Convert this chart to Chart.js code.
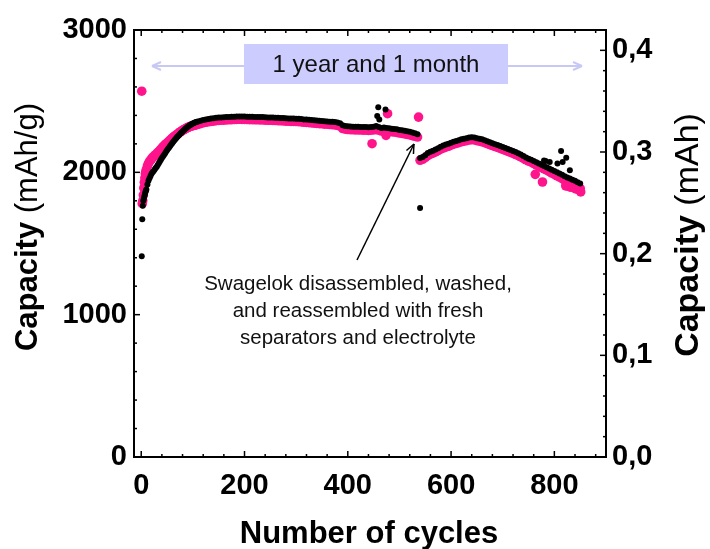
<!DOCTYPE html>
<html>
<head>
<meta charset="utf-8">
<script src="https://cdn.jsdelivr.net/npm/chart.js@4.4.1/dist/chart.umd.min.js"></script>
<style>
  html, body { margin:0; padding:0; background:#fff; }
  #wrap { width:710px; height:549px; }
</style>
</head>
<body>
<div id="wrap"><canvas id="capChart" width="710" height="549"></canvas></div>
<script>
// cycle numbers shared by both series (main band)
const cycles = [
  1, 2, 3, 4, 5, 6, 7, 8, 9, 10,
  12, 14, 16, 18, 20, 22, 24, 26, 28, 30,
  32, 34, 36, 38, 40, 42, 44, 46, 48, 50,
  52, 54, 56, 58, 60, 62, 64, 66, 68, 70,
  72, 74, 76, 78, 80, 82, 84, 86, 88, 90,
  92, 94, 96, 98, 100, 102, 104, 106, 108, 110,
  115,
  120, 125, 130, 135, 140, 145, 150, 155, 160, 165, 170, 175, 180, 185, 190, 195, 200, 205, 210, 215,
  220, 225, 230, 235, 240, 245, 250, 255, 260, 265, 270, 275, 280, 285, 290, 295, 300, 305, 310, 315,
  320, 325, 330, 335, 340, 345, 350, 355, 360, 365, 370, 375, 380, 385, 390, 395, 400, 405, 410, 415,
  420, 425, 430, 435, 440, 445, 450, 455, 460, 465, 470, 475, 480, 485, 490, 495, 500, 505, 510, 515,
  520, 525, 530, 535,
  540, 545, 550, 555, 560, 565, 570, 575, 580, 585, 590, 595, 600, 605, 610, 615, 620, 625, 630, 635,
  640, 645, 650, 655, 660, 665, 670, 675, 680, 685, 690, 695, 700, 705, 710, 715, 720, 725, 730, 735,
  740, 745, 750, 755, 760, 765, 770, 775, 780, 785, 790, 795, 800, 805, 810, 815, 820, 825, 830, 835,
  840, 845, 850
];

// black points (mAh/g)
const blackCap = [
  1410, 1670, 1765, 1800, 1815, 1830, 1845, 1860, 1870, 1880,
  1915, 1940, 1958, 1975, 1990, 2000, 2010, 2020, 2030, 2040,
  2052, 2064, 2076, 2088, 2100, 2111, 2122, 2133, 2144, 2155,
  2165, 2175, 2185, 2195, 2205, 2214, 2223, 2232, 2241, 2250,
  2257, 2264, 2272, 2279, 2287, 2294, 2301, 2308, 2314, 2320,
  2325, 2330, 2335, 2339, 2343, 2347, 2350, 2353, 2356, 2358,
  2363,
  2368, 2372, 2375, 2378, 2380, 2383, 2385, 2386, 2387, 2388, 2389, 2390, 2391, 2392, 2393, 2392, 2392, 2391, 2390, 2390,
  2389, 2389, 2388, 2388, 2387, 2386, 2386, 2385, 2384, 2383, 2382, 2381, 2380, 2379, 2378, 2378, 2377, 2376, 2374, 2372,
  2371, 2369, 2367, 2366, 2364, 2362, 2361, 2359, 2358, 2356, 2355, 2353, 2350, 2345, 2330, 2325, 2323, 2322, 2321, 2320,
  2320, 2319, 2318, 2318, 2317, 2318, 2320, 2325, 2318, 2312, 2315, 2312, 2310, 2307, 2305, 2302, 2298, 2295, 2292, 2288,
  2285, 2280, 2275, 2268,
  2100, 2108, 2120, 2135, 2145, 2152, 2160, 2170, 2180, 2188, 2195, 2200, 2208, 2215, 2220, 2226, 2232, 2236, 2240, 2244,
  2247, 2245, 2240, 2236, 2232, 2225, 2218, 2212, 2205, 2198, 2192, 2185, 2178, 2171, 2164, 2157, 2150, 2142, 2134, 2125,
  2115, 2105, 2096, 2088, 2079, 2070, 2062, 2053, 2044, 2036, 2027, 2018, 2010, 2001, 1992, 1983, 1973, 1964, 1956, 1948,
  1940, 1930, 1921
];

// pink points (mAh/g)
const pinkCap = [
  2570, 1780, 1800, 1840, 1890, 1930, 1960, 1990, 2005, 2020,
  2045, 2062, 2075, 2085, 2095, 2103, 2110, 2118, 2124, 2130,
  2138, 2146, 2154, 2162, 2170, 2178, 2186, 2193, 2199, 2205,
  2212, 2219, 2226, 2233, 2240, 2246, 2252, 2258, 2263, 2268,
  2274, 2280, 2285, 2290, 2295, 2299, 2303, 2307, 2311, 2315,
  2318, 2321, 2324, 2326, 2328, 2330, 2332, 2334, 2336, 2338,
  2342,
  2348, 2352, 2355, 2358, 2360, 2363, 2365, 2366, 2367, 2368, 2369, 2370, 2371, 2372, 2373, 2372, 2372, 2371, 2370, 2370,
  2369, 2369, 2368, 2368, 2367, 2366, 2366, 2365, 2364, 2363, 2362, 2361, 2360, 2359, 2358, 2358, 2357, 2356, 2354, 2352,
  2351, 2349, 2347, 2346, 2344, 2342, 2341, 2339, 2338, 2336, 2335, 2333, 2330, 2325, 2308, 2303, 2301, 2300, 2299, 2298,
  2298, 2297, 2296, 2296, 2295, 2296, 2298, 2300, 2296, 2290, 2293, 2290, 2288, 2285, 2283, 2280, 2276, 2273, 2270, 2266,
  2263, 2258, 2253, 2248,
  2085, 2092, 2103, 2118, 2128, 2135, 2143, 2153, 2163, 2171, 2178, 2183, 2191, 2198, 2203, 2209, 2215, 2219, 2223, 2227,
  2230, 2228, 2223, 2219, 2215, 2208, 2201, 2195, 2188, 2181, 2175, 2168, 2161, 2154, 2147, 2140, 2133, 2125, 2117, 2108,
  2098, 2088, 2079, 2071, 2062, 2052, 2043, 2034, 2024, 2015, 2005, 1995, 1986, 1976, 1966, 1956, 1945, 1935, 1926, 1917,
  1908, 1898, 1888
];

// scattered points off the band
const blackExtraCycles = [457, 459, 461, 473, 540, 780, 783, 791, 806, 813, 816, 823, 830];
const blackExtraCap    = [2395, 2458, 2372, 2442, 1750, 2084, 2080, 2072, 2062, 2150, 2072, 2103, 2014];
const pinkExtraCycles  = [447, 474, 477, 537, 763, 777, 822, 828, 832, 840, 845, 851];
const pinkExtraCap     = [2201, 2260, 2412, 2388, 1986, 1932, 1905, 1900, 1895, 1885, 1880, 1862];

// axes
const xTickValues = [0, 200, 400, 600, 800];
const yTickValues = [0, 1000, 2000, 3000];
const y2TickValues = [0, 0.1, 0.2, 0.3, 0.4];

const PINK = '#ff148c';
const FONT = "'Liberation Sans', Arial, sans-serif";

function toPoints(xs, ys) {
  return xs.map((x, i) => ({ x: x, y: ys[i] }));
}

function fixedTicks(values) {
  return scale => { scale.ticks = values.map(v => ({ value: v })); };
}

// frame, inward ticks, axis titles and annotations
const overlay = {
  id: 'overlay',
  afterDraw(chart) {
    const { ctx, chartArea: a, scales } = chart;
    const line = (x1, y1, x2, y2) => { ctx.beginPath(); ctx.moveTo(x1, y1); ctx.lineTo(x2, y2); ctx.stroke(); };
    ctx.save();
    ctx.strokeStyle = '#000';

    // ticks
    ctx.lineWidth = 1.5;
    for (let v = 0; v <= 880; v += 40) {
      const x = scales.x.getPixelForValue(v);
      const len = v % 200 === 0 ? 6 : 3;
      line(x, a.bottom, x, a.bottom - len);
      line(x, a.top, x, a.top + len);
    }
    for (let v = 0; v <= 3000; v += 200) {
      const y = scales.y.getPixelForValue(v);
      line(a.left, y, a.left + (v % 1000 === 0 ? 6 : 3), y);
    }
    for (let i = 0; i <= 21; i++) {
      const y = scales.y2.getPixelForValue(i * 0.02);
      line(a.right, y, a.right - (i % 5 === 0 ? 6 : 3), y);
    }

    // frame
    ctx.lineWidth = 2;
    ctx.strokeRect(a.left, a.top, a.right - a.left, a.bottom - a.top);

    // axis titles
    const mixed = (x, y, rot, parts, size) => {
      ctx.save();
      ctx.translate(x, y);
      ctx.rotate(rot);
      ctx.fillStyle = '#000';
      ctx.textBaseline = 'alphabetic';
      ctx.textAlign = 'left';
      let total = 0;
      parts.forEach(p => { ctx.font = p[1] + ' ' + size + 'px ' + FONT; total += ctx.measureText(p[0]).width; });
      let cx = -total / 2;
      parts.forEach(p => {
        ctx.font = p[1] + ' ' + size + 'px ' + FONT;
        ctx.fillText(p[0], cx, 0);
        cx += ctx.measureText(p[0]).width;
      });
      ctx.restore();
    };
    mixed(37, 227, -Math.PI / 2, [['Capacity ', 'bold'], ['(mAh/g)', 'normal']], 31);
    mixed(698, 235, -Math.PI / 2, [['Capacity ', 'bold'], ['(mAh)', 'normal']], 34);
    mixed(369, 543, 0, [['Number of cycles', 'bold']], 31);

    // "1 year and 1 month" span
    ctx.strokeStyle = '#c8c8f4';
    ctx.lineWidth = 2;
    const ay = 66, ax1 = 152, ax2 = 582;
    line(ax1, ay, ax2, ay);
    line(ax1, ay, ax1 + 9, ay - 4); line(ax1, ay, ax1 + 9, ay + 4);
    line(ax2, ay, ax2 - 9, ay - 4); line(ax2, ay, ax2 - 9, ay + 4);
    ctx.fillStyle = '#ccccff';
    ctx.fillRect(244, 44, 264, 40);
    ctx.fillStyle = '#111';
    ctx.font = '24px ' + FONT;
    ctx.textAlign = 'center';
    ctx.textBaseline = 'middle';
    ctx.fillText('1 year and 1 month', 376, 65);

    // reassembly note with arrow
    ctx.strokeStyle = '#000';
    ctx.lineWidth = 1.5;
    const tx = 414, ty = 144, bx = 357, by = 260;
    line(bx, by, tx, ty);
    const ang = Math.atan2(by - ty, bx - tx);
    line(tx, ty, tx + 10 * Math.cos(ang - 0.4), ty + 10 * Math.sin(ang - 0.4));
    line(tx, ty, tx + 10 * Math.cos(ang + 0.4), ty + 10 * Math.sin(ang + 0.4));
    ctx.font = '20.5px ' + FONT;
    ctx.textBaseline = 'alphabetic';
    ctx.fillText('Swagelok disassembled, washed,', 358, 290);
    ctx.fillText('and reassembled with fresh', 358, 317);
    ctx.fillText('separators and electrolyte', 358, 344);
    ctx.restore();
  }
};

const tickFont = { family: FONT, size: 29, weight: 'bold' };

new Chart(document.getElementById('capChart'), {
  type: 'scatter',
  data: {
    datasets: [
      {
        label: 'black',
        data: toPoints(cycles, blackCap).concat(toPoints(blackExtraCycles, blackExtraCap)),
        backgroundColor: '#000',
        borderWidth: 0,
        pointRadius: 3,
        order: 1
      },
      {
        label: 'pink',
        data: toPoints(cycles, pinkCap).concat(toPoints(pinkExtraCycles, pinkExtraCap)),
        backgroundColor: PINK,
        borderWidth: 0,
        pointRadius: 4.8,
        order: 2
      }
    ]
  },
  options: {
    responsive: false,
    animation: false,
    layout: { padding: { top: 30, left: 0, right: 0, bottom: 0 } },
    plugins: { legend: { display: false }, tooltip: { enabled: false } },
    scales: {
      x: {
        type: 'linear',
        min: -14,
        max: 900,
        afterBuildTicks: fixedTicks(xTickValues),
        afterFit: s => { s.height = 92; },
        grid: { display: false, drawTicks: false },
        border: { display: false },
        ticks: { font: tickFont, color: '#000', padding: 12, maxRotation: 0, callback: v => String(v) }
      },
      y: {
        position: 'left',
        min: 0,
        max: 3000,
        afterBuildTicks: fixedTicks(yTickValues),
        afterFit: s => { s.width = 134; },
        grid: { display: false, drawTicks: false },
        border: { display: false },
        ticks: { font: tickFont, color: '#000', padding: 7, callback: v => String(v) }
      },
      y2: {
        position: 'right',
        min: 0,
        max: 0.42,
        afterBuildTicks: fixedTicks(y2TickValues),
        afterFit: s => { s.width = 104; },
        grid: { display: false, drawTicks: false },
        border: { display: false },
        ticks: {
          font: tickFont, color: '#000', padding: 6,
          callback: v => v.toFixed(1).replace('.', ',')
        }
      }
    }
  },
  plugins: [overlay]
});
</script>
</body>
</html>
